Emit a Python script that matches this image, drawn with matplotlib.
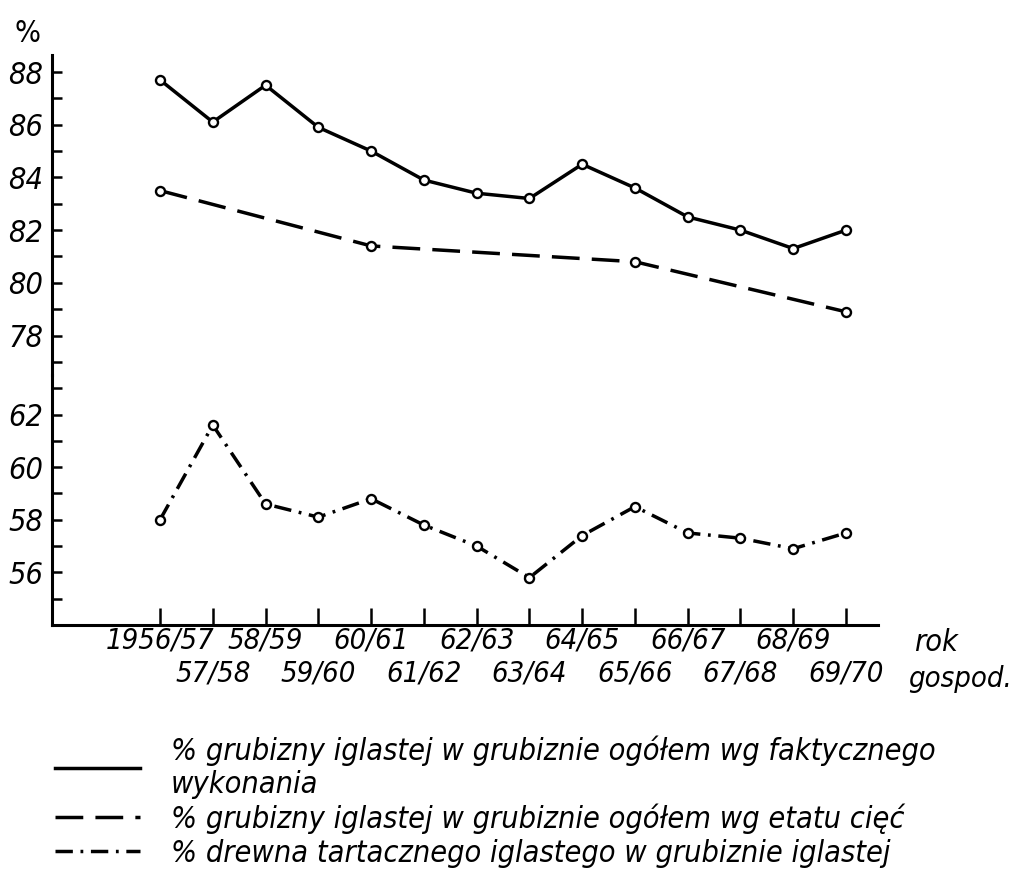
import matplotlib.pyplot as plt
from matplotlib.lines import Line2D
from matplotlib.ticker import MultipleLocator

# rok gospodarczy
years = ["1956/57", "57/58", "58/59", "59/60", "60/61", "61/62", "62/63",
         "63/64", "64/65", "65/66", "66/67", "67/68", "68/69", "69/70"]

# % grubizny iglastej w grubiznie ogółem wg faktycznego wykonania
actual = [87.7, 86.1, 87.5, 85.9, 85.0, 83.9, 83.4,
          83.2, 84.5, 83.6, 82.5, 82.0, 81.3, 82.0]

# % grubizny iglastej wg etatu cięć (only marked years)
plan_idx = [0, 4, 9, 13]
plan = [83.5, 81.4, 80.8, 78.9]

# % drewna tartacznego iglastego w grubiznie iglastej
sawn = [58.0, 61.6, 58.6, 58.1, 58.8, 57.8, 57.0,
        55.8, 57.4, 58.5, 57.5, 57.3, 56.9, 57.5]

legend_labels = [
    "% grubizny iglastej w grubiznie ogółem wg faktycznego\nwykonania",
    "% grubizny iglastej w grubiznie ogółem wg etatu cięć",
    "% drewna tartacznego iglastego w grubiznie iglastej",
]

plt.rcParams['font.family'] = ['DejaVu Sans']
plt.rcParams['font.stretch'] = 'condensed'
plt.rcParams['font.style'] = 'italic'
fs = 22

fig = plt.figure(figsize=(10.17, 8.71), dpi=100)
ax_top = fig.add_axes([0.051, 0.5694, 0.812, 0.3676])
ax_bot = fig.add_axes([0.051, 0.2824, 0.812, 0.287])

lw = 2.5
dash = (0, (8, 3.5))
dashdot = (0, (5, 2.2, 0.8, 2.2))
mk = dict(marker='o', markersize=6.5, markerfacecolor='white',
          markeredgecolor='black', markeredgewidth=1.7)

x = list(range(len(years)))
ax_top.plot(x, actual, color='black', lw=lw, **mk)
ax_top.plot(plan_idx, plan, color='black', lw=lw, linestyle=dash, **mk)
ax_bot.plot(x, sawn, color='black', lw=lw, linestyle=dashdot, **mk)

xlim = (-2.05, 13.6)
ax_top.set_xlim(xlim)
ax_bot.set_xlim(xlim)
ax_top.set_ylim(76.5, 88.65)
ax_bot.set_ylim(54, 63.5)

for ax in (ax_top, ax_bot):
    ax.spines['top'].set_visible(False)
    ax.spines['right'].set_visible(False)
    ax.spines['left'].set_linewidth(2.2)
    ax.spines['bottom'].set_linewidth(2.2)
    ax.yaxis.set_major_locator(MultipleLocator(2))
    ax.yaxis.set_minor_locator(MultipleLocator(1))
    ax.tick_params(axis='y', which='both', direction='in', length=7, width=1.8,
                   labelsize=fs, pad=6)
    ax.patch.set_alpha(0)

ax_top.spines['bottom'].set_visible(False)
ax_top.set_xticks([])
ax_top.set_yticks([78, 80, 82, 84, 86, 88])

ax_bot.set_yticks([56, 58, 60, 62])
# staggered year labels: even years on the first row, odd years below
ax_bot.set_xticks(x[0::2], years[0::2])
ax_bot.set_xticks(x[1::2], years[1::2], minor=True)
ax_bot.tick_params(axis='x', which='both', direction='in', length=12,
                   width=1.8, labelsize=21)
ax_bot.tick_params(axis='x', which='major', pad=1)
ax_bot.tick_params(axis='x', which='minor', pad=25)

fig.text(0.014, 0.952, "%", fontsize=fs, fontstyle='normal')
fig.text(0.899, 0.262, "rok", fontsize=fs, va='center')
fig.text(0.893, 0.221, "gospod.", fontsize=21, va='center')

handles = [
    Line2D([], [], color='black', lw=lw),
    Line2D([], [], color='black', lw=lw, linestyle=dash),
    Line2D([], [], color='black', lw=lw, linestyle=dashdot),
]
fig.legend(handles, legend_labels, loc='upper left',
           bbox_to_anchor=(0.054, 1 - 735 / 871), frameon=False,
           fontsize=fs, handlelength=2.8, handletextpad=1.0,
           labelspacing=0.15, borderpad=0, borderaxespad=0)

fig.savefig("out.png", dpi=100)
